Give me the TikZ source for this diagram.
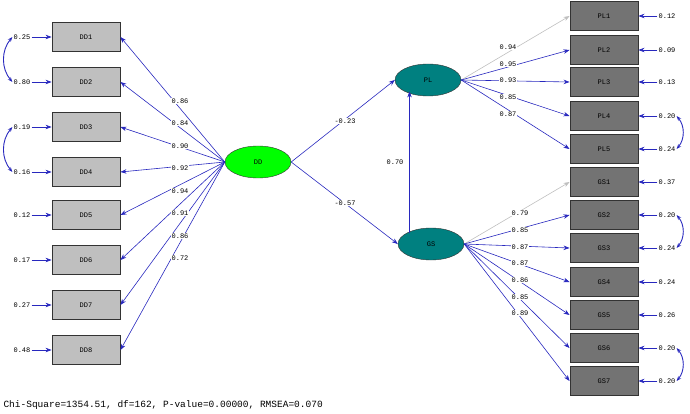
\documentclass[tikz,border=0pt]{standalone}
\usepackage{fontspec}
\setmonofont{Liberation Mono}
\usetikzlibrary{arrows.meta,shapes.geometric}
\begin{document}
\begin{tikzpicture}[x=1pt,y=-1pt,
  obs/.style={draw=black!80,line width=0.9pt,fill=#1,minimum width=68pt,minimum height=29pt,inner sep=0pt,font=\ttfamily\scriptsize},
  lat/.style={ellipse,draw=black!80,fill=#1,minimum width=66pt,minimum height=32pt,inner sep=0pt,font=\ttfamily\scriptsize},
  path/.style={draw={rgb,255:red,40;green,40;blue,190},line width=0.6pt,-{Stealth[length=6pt]}},
  gpath/.style={draw=black!25,line width=0.6pt,-{Stealth[length=6pt]}},
  lab/.style={font=\ttfamily\scriptsize,fill=white,inner sep=0.5pt},
  err/.style={font=\ttfamily\scriptsize,inner sep=1pt},
  cov/.style={draw={rgb,255:red,40;green,40;blue,190},line width=0.9pt,{Stealth[length=5pt]}-{Stealth[length=5pt]}}]
\useasboundingbox (0,0) rectangle (690,414);
\definecolor{teal2}{RGB}{0,128,128}
\node[lat=green] (DD) at (258,162) {DD};
\node[lat=teal2] (PL) at (428,80) {PL};
\node[lat=teal2] (GS) at (431,244) {GS};
% left
\foreach \i/\y/\v in {1/37/0.25,2/82/0.80,3/127/0.19,4/172/0.16,5/215/0.12,6/260/0.17,7/305/0.27,8/350/0.48}{
  \node[obs=black!25] (DD\i) at (86,\y) {DD\i};
  \node[err] (eDD\i) at (22,\y) {\v};
  \draw[path] (eDD\i) -- (DD\i);
  \draw[path] (DD.west) -- (DD\i.east);
}
\foreach \y/\v in {101/0.86,123/0.84,146/0.90,168/0.92,191/0.94,213/0.91,236/0.86,258/0.72}
  \node[lab] at (180,\y) {\v};
\draw[cov] (eDD1.west) to[bend right=40] (eDD2.west);
\draw[cov] (eDD3.west) to[bend right=40] (eDD4.west);
% right
\foreach \n/\y/\v in {PL1/16/0.12,PL2/50/0.09,PL3/82/0.13,PL4/116/0.20,PL5/149/0.24,GS1/182/0.37,GS2/215/0.20,GS3/248/0.24,GS4/282/0.24,GS5/315/0.26,GS6/348/0.20,GS7/381/0.20}{
  \node[obs=black!55] (\n) at (604,\y) {\n};
  \node[err] (e\n) at (667,\y) {\v};
  \draw[path] (e\n) -- (\n);
}
\draw[gpath] (PL.east) -- (PL1.west);
\foreach \n in {PL2,PL3,PL4,PL5} \draw[path] (PL.east) -- (\n.west);
\draw[gpath] (GS.east) -- (GS1.west);
\foreach \n in {GS2,GS3,GS4,GS5,GS6,GS7} \draw[path] (GS.east) -- (\n.west);
\foreach \y/\v in {47/0.94,64/0.95,80/0.93,97/0.85,114/0.87}
  \node[lab] at (508,\y) {\v};
\foreach \y/\v in {213/0.79,230/0.85,247/0.87,263/0.87,280/0.86,297/0.85,313/0.89}
  \node[lab] at (520,\y) {\v};
\draw[cov] (ePL4.east) to[bend left=40] (ePL5.east);
\draw[cov] (eGS2.east) to[bend left=40] (eGS3.east);
\draw[cov] (eGS6.east) to[bend left=40] (eGS7.east);
% structural
\draw[path] (DD.east) -- (PL.west);
\draw[path] (DD.east) -- (GS.west);
\coordinate (g0) at ([xshift=2pt]GS.north west);
\draw[path] (g0) -- (g0 |- PL.south west);
\node[lab] at (345,121) {-0.23};
\node[lab] at (345,203) {-0.57};
\node[lab] at (395,162) {0.70};
\node[anchor=west,font=\ttfamily\fontsize{9.5}{11}\selectfont] (chi) at (0,405) {Chi-Square=1354.51, df=162, P-value=0.00000, RMSEA=0.070};
\end{tikzpicture}
\end{document}
